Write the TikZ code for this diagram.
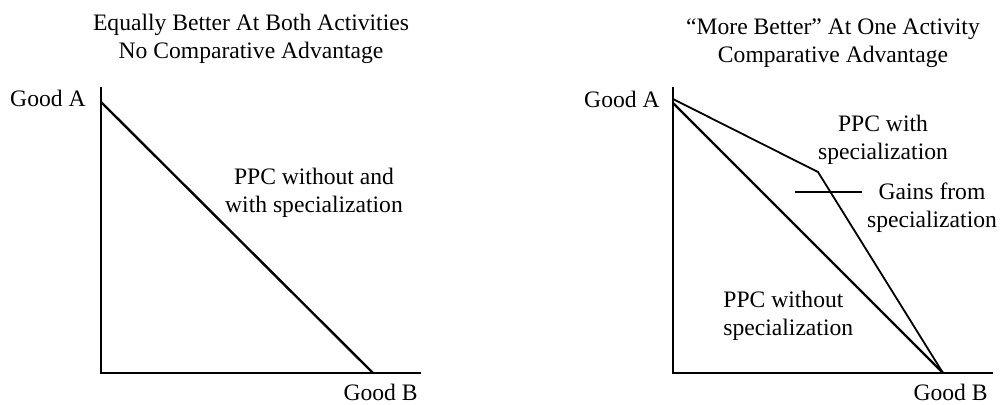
\documentclass[tikz,border=0pt]{standalone}
\usepackage{fontspec}
\setmainfont{Liberation Serif}
\usepackage{tikz}

\begin{document}
\begin{tikzpicture}[x=0.5pt,y=0.5pt,
  axis/.style={line width=1.4pt},
  ppc/.style={line width=1.2pt},
  ppcspec/.style={line width=0.9pt},
  lbl/.style={font=\fontsize{11.8}{13.8}\selectfont,inner sep=0pt,align=center}]
\useasboundingbox (0,0) rectangle (1002,404);
% left panel: same opportunity cost
\coordinate (oL) at (101,31);
\coordinate (yL) at (101,317);
\coordinate (xL) at (421,31);
\coordinate (aL) at (101,302);
\coordinate (bL) at (373,31);
\draw[axis] (yL) -- (oL) -- (xL);
\draw[ppc] (aL) -- (bL);
% (base of a two-line node is the last line)
\node[lbl,anchor=base] (titleL) at (251,346) {Equally Better At Both Activities\\No Comparative Advantage};
\node[lbl,anchor=base east] (goodAL) at (86,298) {Good A};
\node[lbl,anchor=base east] (goodBL) at (418,4) {Good B};
\node[lbl,anchor=base] (ppcL) at (314,192) {PPC without and\\with specialization};
% right panel: kinked PPC
\coordinate (oR) at (673,31);
\coordinate (yR) at (673,317);
\coordinate (xR) at (993,31);
\coordinate (aR) at (673,301);
\coordinate (aRs) at (673,305);
\coordinate (kR) at (818,232);
\coordinate (bR) at (943,31);
\coordinate (gainsA) at (795,212);
\draw[axis] (yR) -- (oR) -- (xR);
\draw[ppc] (aR) -- (bR);
\draw[ppcspec] (aRs) -- (kR) -- (bR);
\node[lbl,anchor=base] (titleR) at (833,342) {“More Better” At One Activity\\Comparative Advantage};
\node[lbl,anchor=base east] (goodAR) at (660,297) {Good A};
\node[lbl,anchor=base east] (goodBR) at (988,4) {Good B};
\node[lbl,anchor=base] (ppcwith) at (883,245) {PPC with\\specialization};
\node[lbl,anchor=base] (gains) at (932,177) {Gains from\\specialization};
\node[lbl,anchor=base west,align=left] (ppcwithout) at (723,69) {PPC without\\specialization};
\draw[ppcspec] (gainsA) -- ([xshift=-2.5pt]gainsA -| gains.west);
\end{tikzpicture}
\end{document}
